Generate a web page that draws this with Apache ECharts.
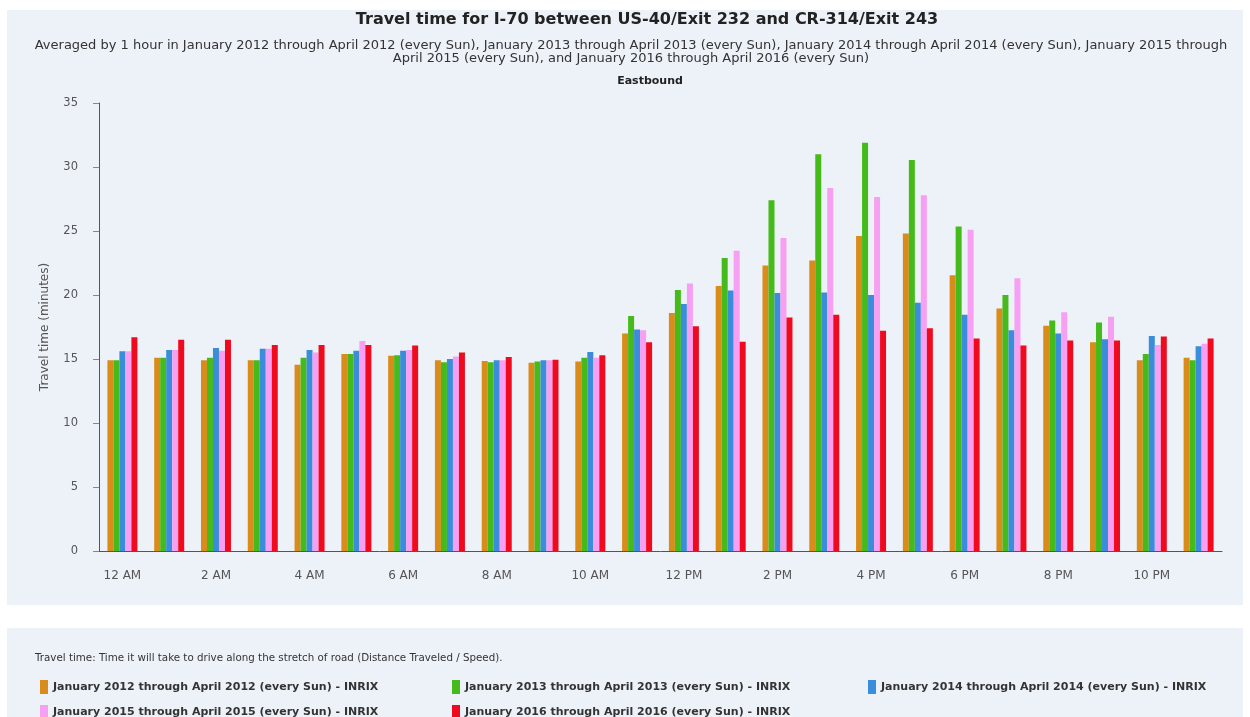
<!DOCTYPE html>
<html><head><meta charset="utf-8">
<script src="https://cdn.jsdelivr.net/npm/echarts@6/dist/echarts.min.js"></script>
<style>html,body{margin:0;padding:0;background:#fff}#c{width:1250px;height:717px}</style>
</head><body><div id="c"></div>
<script>
const hours = ['12 AM','1 AM','2 AM','3 AM','4 AM','5 AM','6 AM','7 AM','8 AM','9 AM','10 AM','11 AM','12 PM','1 PM','2 PM','3 PM','4 PM','5 PM','6 PM','7 PM','8 PM','9 PM','10 PM','11 PM'];
const seriesNames = [
  'January 2012 through April 2012 (every Sun) - INRIX',
  'January 2013 through April 2013 (every Sun) - INRIX',
  'January 2014 through April 2014 (every Sun) - INRIX',
  'January 2015 through April 2015 (every Sun) - INRIX',
  'January 2016 through April 2016 (every Sun) - INRIX'
];
const y2012 = [14.9,15.1,14.9,14.9,14.55,15.4,15.25,14.9,14.85,14.7,14.8,17.0,18.6,20.7,22.3,22.7,24.6,24.8,21.55,18.95,17.6,16.3,14.9,15.1];
const y2013 = [14.9,15.1,15.1,14.9,15.1,15.4,15.3,14.75,14.75,14.8,15.1,18.35,20.4,22.9,27.4,31.0,31.9,30.55,25.35,20.0,18.0,17.85,15.4,14.9];
const y2014 = [15.6,15.7,15.85,15.8,15.7,15.65,15.65,15.0,14.9,14.9,15.55,17.3,19.3,20.35,20.15,20.2,20.0,19.4,18.45,17.25,17.0,16.55,16.8,16.0];
const y2015 = [15.6,15.7,15.65,15.8,15.5,16.4,15.7,15.2,14.9,14.9,15.1,17.25,20.9,23.45,24.45,28.35,27.65,27.8,25.1,21.3,18.65,18.3,16.1,16.2];
const y2016 = [16.7,16.5,16.5,16.1,16.1,16.1,16.05,15.5,15.15,14.95,15.3,16.3,17.55,16.35,18.25,18.45,17.2,17.4,16.6,16.05,16.45,16.45,16.75,16.6];
const colors = ['#D98C1A','#44BB1A','#3A8DDA','#F7A0F3','#F00A1E'];
const yTicks = {min:0, max:35, interval:5};

const FONT = '"DejaVu Sans", Verdana, sans-serif';
const allData = [y2012,y2013,y2014,y2015,y2016];
const legendPos = [[35,675],[447,675],[863,675],[35,700],[447,700]];

const chart = echarts.init(document.getElementById('c'));
chart.setOption({
  backgroundColor:'#ffffff',
  animation:false,
  color: colors,
  graphic:[
    {type:'rect', z:-10, shape:{x:7,y:10,width:1236,height:595}, style:{fill:'#EDF1F8'}},
    {type:'rect', z:-10, shape:{x:7,y:628,width:1236,height:95}, style:{fill:'#EDF1F8'}},
    {type:'text', left:35, top:653, style:{text:'Travel time: Time it will take to drive along the stretch of road (Distance Traveled / Speed).', fontFamily:FONT, fontSize:10.3, fill:'#333'}}
  ],
  title:[
    {text:'Travel time for I-70 between US-40/Exit 232 and CR-314/Exit 243', left:642, top:7, textAlign:'center',
     textStyle:{fontFamily:FONT, fontSize:16, fontWeight:'bold', color:'#222'}},
    {text:'Averaged by 1 hour in January 2012 through April 2012 (every Sun), January 2013 through April 2013 (every Sun), January 2014 through April 2014 (every Sun), January 2015 through\nApril 2015 (every Sun), and January 2016 through April 2016 (every Sun)', left:626, top:34, textAlign:'center',
     textStyle:{fontFamily:FONT, fontSize:13, fontWeight:'normal', color:'#333', lineHeight:13, align:'center'}},
    {text:'Eastbound', left:645, top:71, textAlign:'center',
     textStyle:{fontFamily:FONT, fontSize:11, fontWeight:'bold', color:'#222'}}
  ],
  legend: seriesNames.map((n,i)=>({
    data:[n], left:legendPos[i][0], top:legendPos[i][1], icon:'rect', itemWidth:8, itemHeight:14, itemGap:0,
    textStyle:{fontFamily:FONT, fontSize:11, fontWeight:'bold', color:'#333'}, selectedMode:false
  })),
  grid:{left:99, right:28, top:103, bottom:166},
  xAxis:{type:'category', data:hours,
    axisLine:{lineStyle:{color:'#555'}},
    axisTick:{alignWithLabel:true, interval:1, length:6, lineStyle:{color:'#555'}},
    axisLabel:{interval:1, margin:19, fontFamily:FONT, fontSize:12, color:'#555'}
  },
  yAxis:{type:'value', min:yTicks.min, max:yTicks.max, interval:yTicks.interval,
    name:'Travel time (minutes)', nameLocation:'middle', nameGap:48, nameRotate:90,
    nameTextStyle:{fontFamily:FONT, fontSize:12, color:'#555'},
    axisLine:{show:true, lineStyle:{color:'#555'}},
    axisTick:{show:true, length:6, lineStyle:{color:'#888'}},
    axisLabel:{margin:21, fontFamily:FONT, fontSize:11.5, color:'#555'},
    splitLine:{show:false}
  },
  series: allData.map((d,i)=>({
    name:seriesNames[i], type:'bar', data:d, barWidth:6, barGap:'0%', itemStyle:{color:colors[i]}
  }))
});
</script></body></html>
